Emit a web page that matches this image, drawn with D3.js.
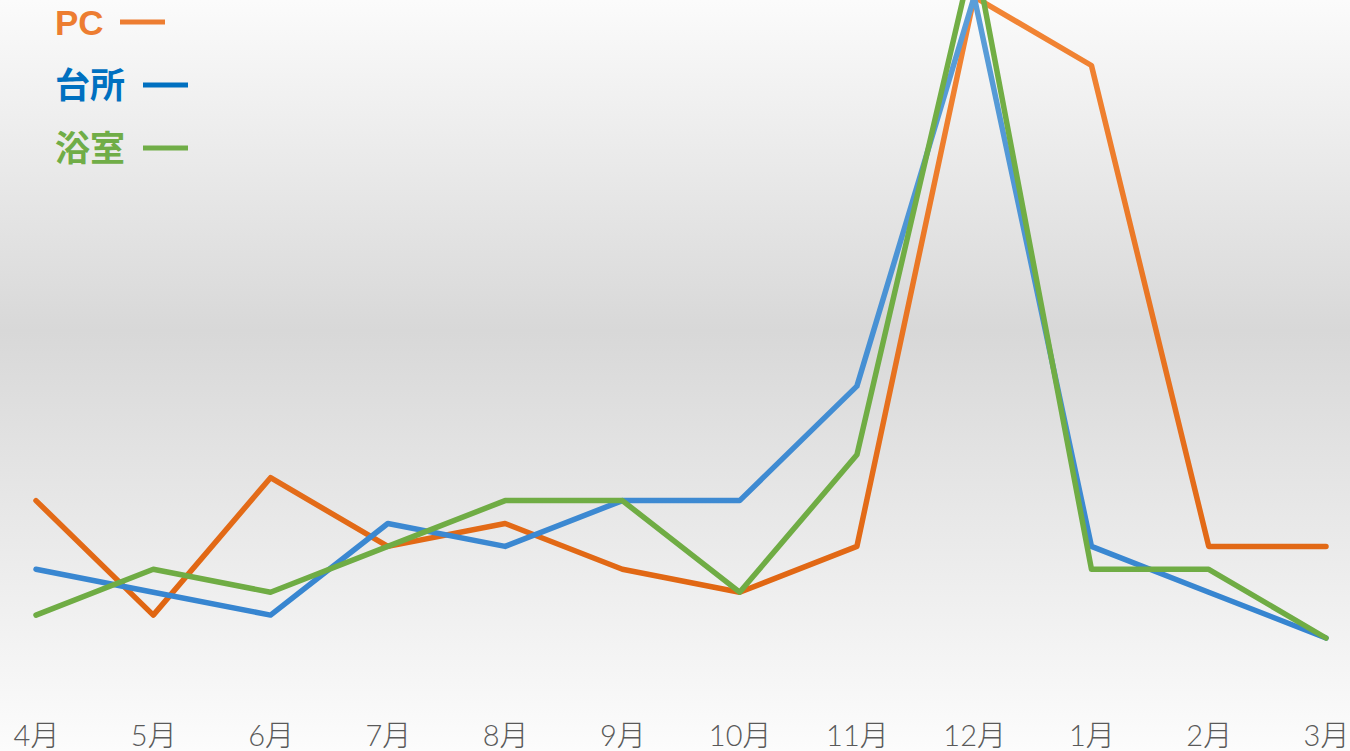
<!DOCTYPE html>
<meta charset="utf-8">
<script src="https://cdn.jsdelivr.net/npm/d3@7"></script>
<style>
body { margin: 0; overflow: hidden; }
text { font-family: "Lato", "Noto Sans CJK JP", sans-serif; }
.tick { fill: #595959; font-size: 29px; font-weight: 300; }
.legend { font-family: "Liberation Sans", "Noto Sans CJK JP", sans-serif; font-size: 35px; font-weight: bold; }
path.line { fill: none; stroke-width: 5.5px; stroke-linejoin: round; stroke-linecap: round; }
</style>
<body>
<script>

// months along the x axis
var months = ["4月", "5月", "6月", "7月", "8月", "9月", "10月", "11月", "12月", "1月", "2月", "3月"];

// values
var pc    = [6, 1, 7, 4, 5, 3, 2, 4, 28, 25, 4, 4];
var kitchen = [3, 2, 1, 5, 4, 6, 6, 11, 28, 4, 2, 0];
var bath  = [1, 3, 2, 4, 6, 6, 2, 8, 30, 3, 3, 0];

var seriesNames = ["PC", "台所", "浴室"];

var width = 1350,
    height = 751;

var svg = d3.select("body").append("svg")
    .attr("width", width)
    .attr("height", height);

var defs = svg.append("defs");

// background: white at top and bottom, grey in the middle
var bg = defs.append("linearGradient")
    .attr("id", "bg")
    .attr("x1", 0).attr("y1", 0).attr("x2", 0).attr("y2", 1);
bg.append("stop").attr("offset", "0").attr("stop-color", "#fbfbfb");
bg.append("stop").attr("offset", "0.44").attr("stop-color", "#d8d8d8");
bg.append("stop").attr("offset", "1").attr("stop-color", "#fcfcfc");

svg.append("rect")
    .attr("width", width)
    .attr("height", height)
    .attr("fill", "url(#bg)");

// line colours fade a little from top to bottom
function lineGradient(id, top, bottom) {
  var g = defs.append("linearGradient")
      .attr("id", id)
      .attr("gradientUnits", "userSpaceOnUse")
      .attr("x1", 0).attr("y1", 0).attr("x2", 0).attr("y2", 640);
  g.append("stop").attr("offset", "0").attr("stop-color", top);
  g.append("stop").attr("offset", "1").attr("stop-color", bottom);
}
lineGradient("gPC", "#f28535", "#df6410");
lineGradient("gKitchen", "#5b9ed8", "#3584d0");
lineGradient("gBath", "#72ae45", "#6fac44");

var x = d3.scalePoint()
    .domain(months)
    .range([36, 1326]);

var y = d3.scaleLinear()
    .domain([0, 10])
    .range([638, 409]);

var line = d3.line()
    .x(function(d, i) { return x(months[i]); })
    .y(function(d) { return y(d); });

var series = [
  { name: seriesNames[0], values: pc, stroke: "url(#gPC)" },
  { name: seriesNames[1], values: kitchen, stroke: "url(#gKitchen)" },
  { name: seriesNames[2], values: bath, stroke: "url(#gBath)" }
];

svg.selectAll("path.line")
    .data(series)
  .enter().append("path")
    .attr("class", "line")
    .attr("stroke", function(d) { return d.stroke; })
    .attr("d", function(d) { return line(d.values); });

// x axis labels
var xAxis = svg.append("g")
    .attr("transform", "translate(0,746)")
    .call(d3.axisBottom(x).tickSize(0).tickPadding(0));
xAxis.select(".domain").remove();
xAxis.selectAll("text")
    .attr("class", "tick")
    .attr("y", 0)
    .attr("dy", 0)
    .attr("fill", "#595959")
    .style("font-size", "29px");

// legend
var legendData = [
  { name: seriesNames[0], color: "#ed7d31", y: 35, x2: 120 },
  { name: seriesNames[1], color: "#0070c0", y: 98, x2: 143 },
  { name: seriesNames[2], color: "#70ad47", y: 161, x2: 143 }
];

var legend = svg.selectAll("g.legend")
    .data(legendData)
  .enter().append("g");

legend.append("text")
    .attr("class", "legend")
    .attr("x", 55)
    .attr("y", function(d) { return d.y; })
    .attr("fill", function(d) { return d.color; })
    .text(function(d) { return d.name; });

legend.append("line")
    .attr("x1", function(d) { return d.x2; })
    .attr("x2", function(d) { return d.x2 + 45; })
    .attr("y1", function(d) { return d.y - 13; })
    .attr("y2", function(d) { return d.y - 13; })
    .attr("stroke", function(d) { return d.color; })
    .attr("stroke-width", 5);

</script>
</body>
</html>
